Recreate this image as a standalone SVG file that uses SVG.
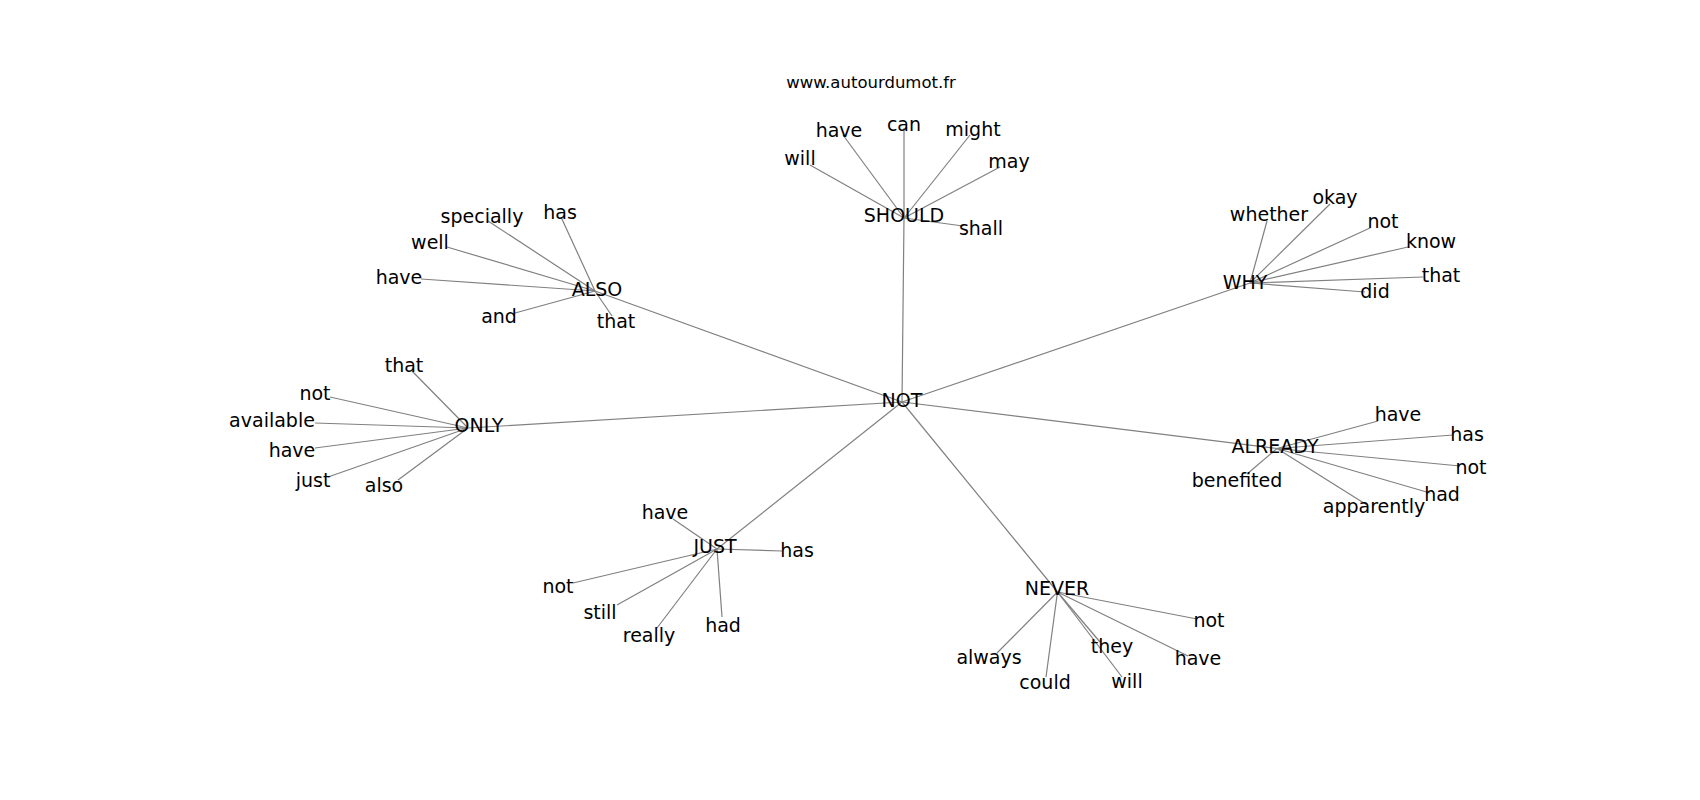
<svg xmlns="http://www.w3.org/2000/svg" width="1700" height="800" viewBox="0 0 1700 800">
<style>
.e{stroke:#808080;stroke-width:1.2;fill:none}
text{font-family:"DejaVu Sans","Liberation Sans",sans-serif;font-size:19px;fill:#000;text-anchor:middle}
.t{font-size:16.5px}
</style>
<rect width="1700" height="800" fill="#fff"/>
<text class="t" x="871" y="88">www.autourdumot.fr</text>
<g id="connectors">
<!-- NOT to hubs -->
<line class="e" x1="902" y1="402" x2="904" y2="218"/>
<line class="e" x1="902" y1="402" x2="595" y2="291"/>
<line class="e" x1="902" y1="402" x2="1250" y2="283"/>
<line class="e" x1="902" y1="402" x2="468" y2="428"/>
<line class="e" x1="902" y1="402" x2="1277" y2="448.5"/>
<line class="e" x1="902" y1="402" x2="717" y2="549"/>
<line class="e" x1="902" y1="402" x2="1057.5" y2="592"/>
<!-- SHOULD -->
<line class="e" x1="904" y1="218" x2="810" y2="165"/>
<line class="e" x1="904" y1="218" x2="843" y2="135"/>
<line class="e" x1="904" y1="218" x2="904" y2="128"/>
<line class="e" x1="904" y1="218" x2="970" y2="135"/>
<line class="e" x1="904" y1="218" x2="1000" y2="167"/>
<line class="e" x1="904" y1="218" x2="963" y2="226"/>
<!-- ALSO -->
<line class="e" x1="595" y1="291" x2="488" y2="221"/>
<line class="e" x1="595" y1="291" x2="561" y2="217"/>
<line class="e" x1="595" y1="291" x2="447" y2="247"/>
<line class="e" x1="595" y1="291" x2="421" y2="279"/>
<line class="e" x1="595" y1="291" x2="515" y2="313"/>
<line class="e" x1="595" y1="291" x2="612" y2="316"/>
<!-- WHY -->
<line class="e" x1="1250" y1="283" x2="1267" y2="221"/>
<line class="e" x1="1250" y1="283" x2="1330" y2="204"/>
<line class="e" x1="1250" y1="283" x2="1370" y2="228"/>
<line class="e" x1="1250" y1="283" x2="1408" y2="247"/>
<line class="e" x1="1250" y1="283" x2="1423" y2="277"/>
<line class="e" x1="1250" y1="283" x2="1365" y2="292"/>
<!-- ONLY -->
<line class="e" x1="468" y1="428" x2="412" y2="371"/>
<line class="e" x1="468" y1="428" x2="330" y2="397"/>
<line class="e" x1="468" y1="428" x2="315" y2="423"/>
<line class="e" x1="468" y1="428" x2="315" y2="448"/>
<line class="e" x1="468" y1="428" x2="328" y2="477"/>
<line class="e" x1="468" y1="428" x2="398" y2="480"/>
<!-- ALREADY -->
<line class="e" x1="1277" y1="448.5" x2="1378" y2="421"/>
<line class="e" x1="1277" y1="448.5" x2="1453" y2="435"/>
<line class="e" x1="1277" y1="448.5" x2="1460" y2="466"/>
<line class="e" x1="1277" y1="448.5" x2="1430" y2="493"/>
<line class="e" x1="1277" y1="448.5" x2="1367" y2="505"/>
<line class="e" x1="1277" y1="448.5" x2="1247" y2="474"/>
<!-- JUST -->
<line class="e" x1="717" y1="549" x2="673" y2="519"/>
<line class="e" x1="717" y1="549" x2="782" y2="551"/>
<line class="e" x1="717" y1="549" x2="573" y2="583"/>
<line class="e" x1="717" y1="549" x2="617" y2="605"/>
<line class="e" x1="717" y1="549" x2="657" y2="628"/>
<line class="e" x1="717" y1="549" x2="722" y2="617"/>
<!-- NEVER -->
<line class="e" x1="1057.5" y1="592" x2="1197" y2="619"/>
<line class="e" x1="1057.5" y1="592" x2="1188" y2="656"/>
<line class="e" x1="1057.5" y1="592" x2="1100" y2="642"/>
<line class="e" x1="1057.5" y1="592" x2="1122" y2="677"/>
<line class="e" x1="1057.5" y1="592" x2="1046" y2="677"/>
<line class="e" x1="1057.5" y1="592" x2="997" y2="653"/>
</g>
<g id="n-not"><text x="902" y="406.5">NOT</text></g>
<g id="n-should"><text x="904" y="222">SHOULD</text></g>
<g id="n-also"><text x="597" y="296">ALSO</text></g>
<g id="n-why"><text x="1245" y="289">WHY</text></g>
<g id="n-only"><text x="479" y="432">ONLY</text></g>
<g id="n-already"><text x="1275" y="453">ALREADY</text></g>
<g id="n-just"><text x="715" y="553">JUST</text></g>
<g id="n-never"><text x="1057" y="595">NEVER</text></g>
<g id="should-will"><text x="800" y="165">will</text></g>
<g id="should-have"><text x="839" y="137">have</text></g>
<g id="should-can"><text x="904" y="131">can</text></g>
<g id="should-might"><text x="973" y="136">might</text></g>
<g id="should-may"><text x="1009" y="168">may</text></g>
<g id="should-shall"><text x="981" y="235">shall</text></g>
<g id="also-specially"><text x="482" y="223">specially</text></g>
<g id="also-has"><text x="560" y="219">has</text></g>
<g id="also-well"><text x="430" y="249">well</text></g>
<g id="also-have"><text x="399" y="284">have</text></g>
<g id="also-and"><text x="499" y="323">and</text></g>
<g id="also-that"><text x="616" y="328">that</text></g>
<g id="why-whether"><text x="1269" y="221">whether</text></g>
<g id="why-okay"><text x="1335" y="204">okay</text></g>
<g id="why-not"><text x="1383" y="228">not</text></g>
<g id="why-know"><text x="1431" y="248">know</text></g>
<g id="why-that"><text x="1441" y="282">that</text></g>
<g id="why-did"><text x="1375" y="298">did</text></g>
<g id="only-that"><text x="404" y="372">that</text></g>
<g id="only-not"><text x="315" y="400">not</text></g>
<g id="only-available"><text x="272" y="427">available</text></g>
<g id="only-have"><text x="292" y="457">have</text></g>
<g id="only-just"><text x="313" y="487">just</text></g>
<g id="only-also"><text x="384" y="492">also</text></g>
<g id="already-have"><text x="1398" y="421">have</text></g>
<g id="already-has"><text x="1467" y="441">has</text></g>
<g id="already-not"><text x="1471" y="474">not</text></g>
<g id="already-had"><text x="1442" y="501">had</text></g>
<g id="already-apparently"><text x="1374" y="513">apparently</text></g>
<g id="already-benefited"><text x="1237" y="487">benefited</text></g>
<g id="just-have"><text x="665" y="519">have</text></g>
<g id="just-has"><text x="797" y="557">has</text></g>
<g id="just-not"><text x="558" y="593">not</text></g>
<g id="just-still"><text x="600" y="619">still</text></g>
<g id="just-really"><text x="649" y="642">really</text></g>
<g id="just-had"><text x="723" y="632">had</text></g>
<g id="never-not"><text x="1209" y="627">not</text></g>
<g id="never-have"><text x="1198" y="665">have</text></g>
<g id="never-they"><text x="1112" y="653">they</text></g>
<g id="never-will"><text x="1127" y="688">will</text></g>
<g id="never-could"><text x="1045" y="689">could</text></g>
<g id="never-always"><text x="989" y="664">always</text></g>
</svg>
